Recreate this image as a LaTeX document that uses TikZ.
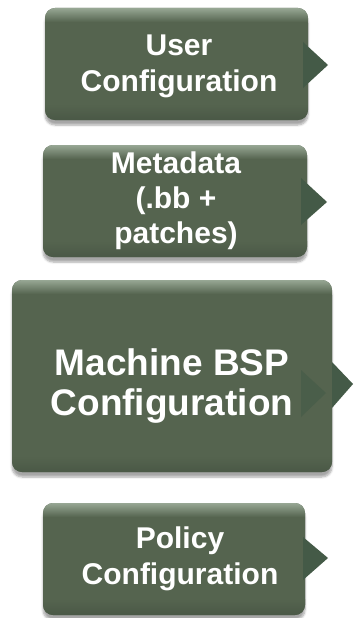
\documentclass[tikz,border=0pt]{standalone}
\usepackage{fontspec}
\setmainfont{Liberation Sans}
\usetikzlibrary{shadows.blur}
\definecolor{boxgreen}{HTML}{55644F}
\definecolor{boxlight}{HTML}{97A794}
\definecolor{boxdark}{HTML}{4A5846}
\definecolor{chevgreen}{HTML}{445A47}
\tikzset{
  stepbox/.style={fill=boxgreen, rounded corners=10pt,
    blur shadow={shadow xshift=0pt, shadow yshift=-5pt, shadow blur steps=6, shadow opacity=35}},
  boxtext/.style={text=white, font=\bfseries, align=center},
  chev/.style={fill=chevgreen},
  chevin/.style={fill=chevgreen, fill opacity=0.6},
}
\newcommand{\gbox}[5]{% name, x1,y1,x2,y2
  \path[stepbox] (#2,#3) rectangle (#4,#5);
  \begin{scope}
    \clip[rounded corners=10pt] (#2,#3) rectangle (#4,#5);
    \shade[top color=boxlight, bottom color=boxgreen] (#2,#3) rectangle (#4,#3+14);
    \shade[top color=boxgreen, bottom color=boxdark] (#2,#5-16) rectangle (#4,#5);
  \end{scope}
  \coordinate (#1) at ({(#2+#4)/2},{(#3+#5)/2});
}
\begin{document}
\begin{tikzpicture}[x=1pt,y=-1pt]
\useasboundingbox (0,0) rectangle (354,618);
% box 1
\gbox{b1}{45}{8}{308}{120}
\path[chev] (303,42) -- (328,65) -- (303,88) -- cycle;
\node[boxtext, font=\fontsize{30}{36}\selectfont\bfseries] (t1) at (179,66) {User\\Configuration};
% box 2
\gbox{b2}{43}{145}{307}{257}
\path[chev] (301,178) -- (327,202) -- (301,225) -- cycle;
\node[boxtext, font=\fontsize{30}{35}\selectfont\bfseries] (t2) at (176,201) {Metadata\\(.bb +\\patches)};
% box 3
\gbox{b3}{12}{280}{332}{472}
\path[chevin] (301,370) -- (326,393) -- (301,417) -- cycle;
\path[chev] (332,362) -- (353,384) -- (332,408) -- cycle;
\node[boxtext, font=\fontsize{37}{40}\selectfont\bfseries] (t3) at (172,386) {Machine BSP\\Configuration};
% box 4
\gbox{b4}{43}{503}{305}{615}
\path[chev] (303,537) -- (328,558) -- (303,580) -- cycle;
\node[boxtext, font=\fontsize{30}{36}\selectfont\bfseries] (t4) at (180,559) {Policy\\Configuration};
\end{tikzpicture}
\end{document}
